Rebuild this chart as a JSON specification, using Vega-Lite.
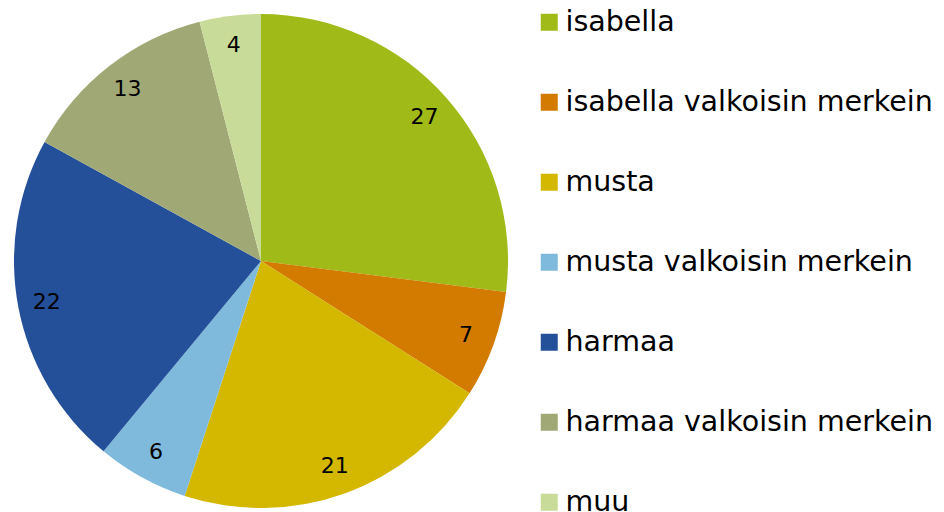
{
  "$schema": "https://vega.github.io/schema/vega-lite/v6.json",
  "width": 522,
  "height": 502,
  "autosize": {"type": "none"},
  "padding": {"top": 10, "left": 0, "right": 422, "bottom": 0},
  "background": "white",
  "config": {"view": {"stroke": null}},
  "data": {
    "values": [
      {"category": "isabella", "value": 27},
      {"category": "isabella valkoisin merkein", "value": 7},
      {"category": "musta", "value": 21},
      {"category": "musta valkoisin merkein", "value": 6},
      {"category": "harmaa", "value": 22},
      {"category": "harmaa valkoisin merkein", "value": 13},
      {"category": "muu", "value": 4}
    ]
  },
  "transform": [{"window": [{"op": "row_number", "as": "i"}]}],
  "encoding": {
    "theta": {"field": "value", "type": "quantitative", "stack": true},
    "order": {"field": "i", "type": "quantitative"}
  },
  "layer": [
    {
      "mark": {"type": "arc", "outerRadius": 247, "stroke": null},
      "encoding": {
        "color": {
          "field": "category",
          "type": "nominal",
          "sort": ["isabella", "isabella valkoisin merkein", "musta", "musta valkoisin merkein", "harmaa", "harmaa valkoisin merkein", "muu"],
          "scale": {
            "domain": ["isabella", "isabella valkoisin merkein", "musta", "musta valkoisin merkein", "harmaa", "harmaa valkoisin merkein", "muu"],
            "range": ["#A0BA18", "#D27B00", "#D4B800", "#7FBADC", "#244F99", "#A0A976", "#C9DB99"]
          },
          "legend": {
            "title": null,
            "orient": "none",
            "legendX": 535,
            "legendY": -2,
            "padding": 0,
            "symbolType": "square",
            "symbolSize": 289,
            "symbolStrokeWidth": 0,
            "symbolOpacity": 1,
            "labelFont": "DejaVu Sans",
            "labelFontSize": 28.5,
            "labelColor": "#000000",
            "labelOffset": 2,
            "labelLimit": 500,
            "rowPadding": 51
          }
        }
      }
    },
    {
      "mark": {"type": "text", "radius": 218, "font": "DejaVu Sans", "fontSize": 22, "color": "#000000"},
      "encoding": {
        "text": {"field": "value", "type": "quantitative"},
        "detail": {"field": "category", "type": "nominal"}
      }
    }
  ]
}
